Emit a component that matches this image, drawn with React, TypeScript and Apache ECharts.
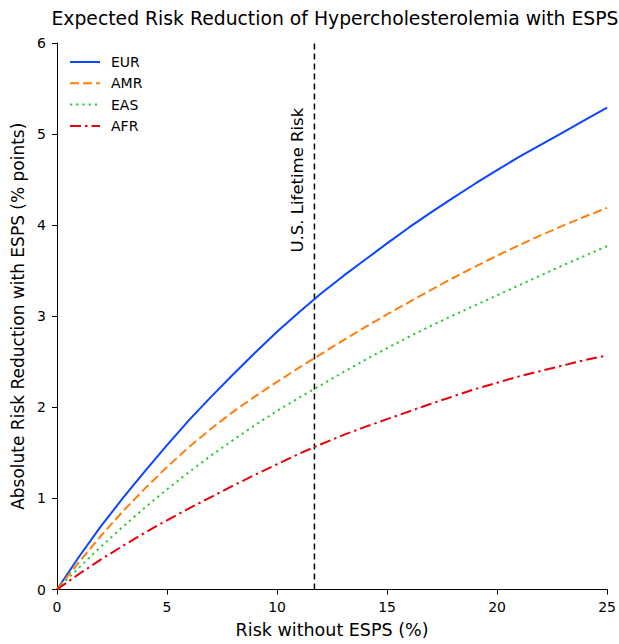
import React, { useEffect, useRef } from "react";
import * as echarts from "echarts";

// Baseline risk without ESPS (%)
const riskWithout = [0, 1, 2, 3, 4, 5, 6, 7, 8, 9, 10, 11, 12, 13, 14, 15, 16, 17, 18, 19, 20, 21, 22, 23, 24, 25];

// Absolute risk reduction with ESPS (% points) per population
const eur = [0, 0.36, 0.695, 1.005, 1.3, 1.585, 1.86, 2.115, 2.36, 2.6, 2.83, 3.045, 3.25, 3.44, 3.62, 3.8, 3.975, 4.14, 4.3, 4.455, 4.605, 4.75, 4.885, 5.02, 5.155, 5.29];
const amr = [0, 0.3, 0.59, 0.86, 1.11, 1.345, 1.565, 1.765, 1.95, 2.12, 2.28, 2.435, 2.585, 2.735, 2.88, 3.02, 3.155, 3.29, 3.42, 3.545, 3.665, 3.78, 3.89, 3.995, 4.095, 4.19];
const eas = [0, 0.24, 0.47, 0.69, 0.9, 1.1, 1.29, 1.47, 1.64, 1.805, 1.96, 2.105, 2.245, 2.385, 2.52, 2.65, 2.775, 2.895, 3.01, 3.12, 3.23, 3.34, 3.45, 3.56, 3.665, 3.77];
const afr = [0, 0.17, 0.33, 0.48, 0.625, 0.76, 0.89, 1.015, 1.14, 1.26, 1.375, 1.49, 1.595, 1.695, 1.785, 1.87, 1.955, 2.04, 2.12, 2.2, 2.27, 2.34, 2.4, 2.46, 2.52, 2.57];

const seriesNames = ["EUR", "AMR", "EAS", "AFR"];
const lifetimeRisk = 11.7;
const lifetimeLabel = "U.S. Lifetime Risk";

const FONT = "DejaVu Sans";

export default function App() {
  const ref = useRef<HTMLDivElement>(null);

  useEffect(() => {
    if (!ref.current) return;
    const chart = echarts.init(ref.current, undefined, { renderer: "svg" });
    const pairs = (ys: number[]) => riskWithout.map((x, i) => [x, ys[i]]);

    const lineSeries = (name: string, ys: number[], color: string, type: any) => ({
      name,
      type: "line",
      data: pairs(ys),
      showSymbol: false,
      symbol: "none",
      smooth: false,
      lineStyle: { color, width: 2, type },
      itemStyle: { color },
      z: 3,
    });

    chart.setOption({
      animation: false,
      backgroundColor: "#ffffff",
      textStyle: { fontFamily: FONT },
      title: {
        text: "Expected Risk Reduction of Hypercholesterolemia with ESPS",
        left: 330,
        textAlign: "center",
        top: 4,
        textStyle: { fontFamily: FONT, fontSize: 18.8, fontWeight: "normal", color: "#000" },
      },
      grid: { left: 57, right: 10, top: 43, bottom: 54.5 },
      legend: {
        orient: "vertical",
        left: 69,
        top: 55,
        padding: 0,
        itemWidth: 30,
        itemHeight: 8,
        itemGap: 7.3,
        data: seriesNames,
        itemStyle: { opacity: 0 },
        textStyle: { fontFamily: FONT, fontSize: 14, color: "#000", padding: [0, 0, 0, 6] },
      },
      xAxis: {
        type: "value",
        min: 0,
        max: 25,
        interval: 5,
        name: "Risk without ESPS (%)",
        nameLocation: "middle",
        nameGap: 31,
        nameTextStyle: { fontFamily: FONT, fontSize: 17.5, color: "#000" },
        axisLine: { show: true, onZero: false, lineStyle: { color: "#000", width: 1 } },
        axisTick: { show: true, length: 5, lineStyle: { color: "#000" } },
        axisLabel: { fontFamily: FONT, fontSize: 14, color: "#000", margin: 10 },
        splitLine: { show: false },
      },
      yAxis: {
        type: "value",
        min: 0,
        max: 6,
        interval: 1,
        name: "Absolute Risk Reduction with ESPS (% points)",
        nameLocation: "middle",
        nameGap: 25,
        nameTextStyle: { fontFamily: FONT, fontSize: 17, color: "#000" },
        axisLine: { show: true, onZero: false, lineStyle: { color: "#000", width: 1 } },
        axisTick: { show: true, length: 5, lineStyle: { color: "#000" } },
        axisLabel: { fontFamily: FONT, fontSize: 14, color: "#000", margin: 11 },
        splitLine: { show: false },
      },
      series: [
        lineSeries("EUR", eur, "#0a46ff", "solid"),
        lineSeries("AMR", amr, "#ff7f0e", [9, 4]),
        lineSeries("EAS", eas, "#22cc33", [2.2, 4]),
        lineSeries("AFR", afr, "#e8000b", [11, 4, 2.5, 4]),
        {
          name: lifetimeLabel,
          type: "line",
          data: [
            [lifetimeRisk, 0],
            [lifetimeRisk, 6],
          ],
          showSymbol: false,
          symbol: "none",
          lineStyle: { color: "#000", width: 1.5, type: [6, 4] },
          z: 2,
          silent: true,
        },
      ],
    });

    const [lx] = chart.convertToPixel({ gridIndex: 0 }, [lifetimeRisk, 0]);
    const labelBottom = chart.convertToPixel({ gridIndex: 0 }, [lifetimeRisk, 3.7])[1];
    chart.setOption({
      graphic: [
        {
          type: "text",
          x: lx - 8,
          y: labelBottom,
          rotation: Math.PI / 2,
          style: {
            text: lifetimeLabel,
            fontFamily: FONT,
            fontSize: 16.5,
            fill: "#000",
            align: "left",
            verticalAlign: "bottom",
          },
        },
      ],
    });

    return () => chart.dispose();
  }, []);

  return (
    <div
      ref={ref}
      style={{ position: "fixed", left: 0, top: 0, width: 619, height: 644, background: "#fff" }}
    />
  );
}
